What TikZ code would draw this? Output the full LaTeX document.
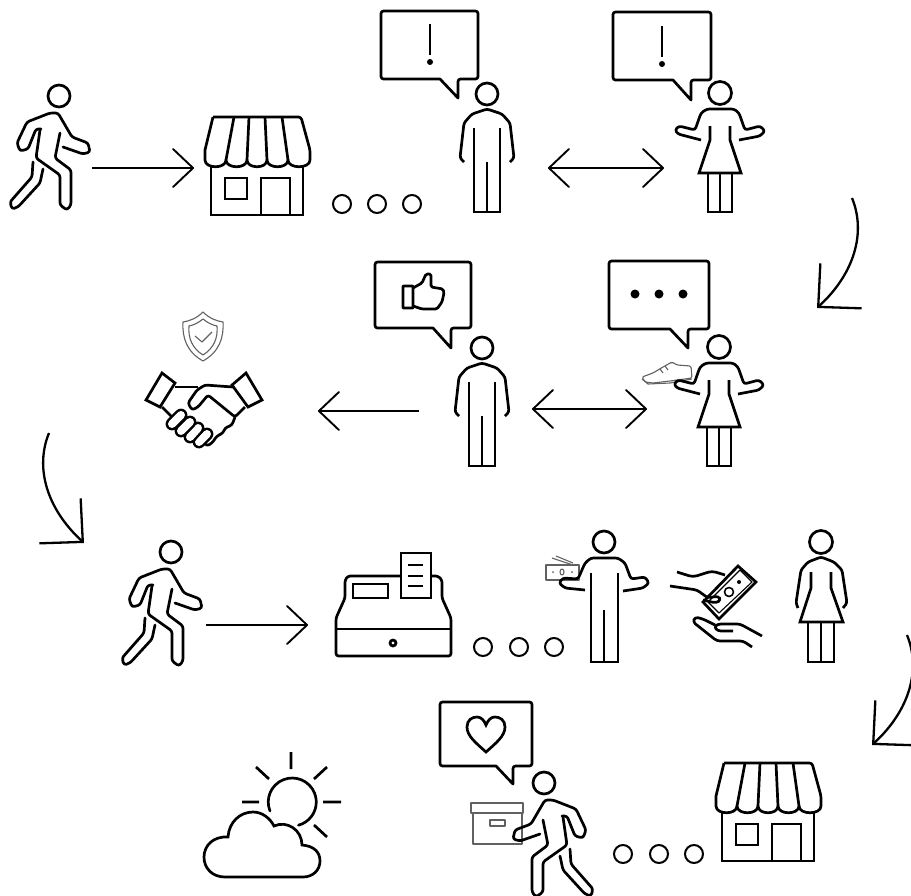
\documentclass[tikz,border=0pt]{standalone}
\usepackage{tikz}
\usetikzlibrary{arrows.meta}
\definecolor{pale}{gray}{0.38}
\tikzset{
icon/.style={draw=black,line width=2.7pt,line join=round,rounded corners=2.5pt},
sharpicon/.style={draw=black,line width=2.7pt,line join=miter},
paleicon/.style={draw=pale,line width=1.1pt,line join=round},
ring/.style={draw=black,line width=2pt},
fingertip/.style={line width=2.4pt,double,double distance=8pt,line cap=round},
flow/.style={line width=1.9pt,-{Straight Barb[length=20pt,width=38pt,round]}},
flowboth/.style={line width=1.9pt,{Straight Barb[length=20pt,width=38pt,round]}-{Straight Barb[length=20pt,width=38pt,round]}},
swing/.style={line width=2.3pt,-{Straight Barb[length=31pt,width=61pt]}},
pics/walker/.style={code={
\draw[icon,line cap=round](0,0)circle[radius=11];
\draw[icon,line cap=round](-18,33)--(-23,33)--(-31,53)--(-39,55)--(-42,47)--(-32,26)--(-9,17)--(-1,17)--(13,41)--(29,47)--(31,56)--(24,58)--(4,51);
\draw[icon,line cap=round](1,37)--(-4,62)--(12,74)--(12,109)--(8,114)--(1,109)--(1,79)--(-23,62)--(-19,34);
\draw[icon,line cap=round](-26,66)--(-27,81)--(-49,106)--(-47,113)--(-41,111)--(-19,87)--(-16,73);
}},
pics/man/.style={code={
\draw[icon](0,0)circle[radius=11];
\draw[icon](-23,68)--(-27,64)--(-23,29)--(-15,20)--(0,15)--(15,20)--(23,29)--(27,64)--(23,68);
\draw[sharpicon](-13,34)--(-13,118)--(13,118)--(13,34);
\draw[sharpicon](0,68)--(0,118);
}},
pics/manopen/.style={code={
\draw[icon](0,0)circle[radius=11];
\draw[icon](-19,48)--(-39,46)--(-45,41)--(-41,36)--(-26,37)--(-19,21)--(-13,16)--(14,16)--(21,21)--(27,37)--(41,35)--(45,41)--(39,46)--(19,49);
\draw[sharpicon](-13,31)--(-13,120)--(14,120)--(14,31);
\draw[sharpicon](0,68)--(0,120);
}},
pics/woman/.style={code={
\draw[icon](0,0)circle[radius=11.5];
\draw[icon](-23,66)--(-25,61)--(-20,28)--(-13,20)--(0,15)--(13,20)--(21,28)--(26,61)--(22,66);
\draw[sharpicon](-10,30)--(-10,46)--(-21,80)--(22,80)--(10,46)--(10,30);
\draw[sharpicon](-13,80)--(-13,120)--(13,120)--(13,80);
\draw[sharpicon](0,80)--(0,120);
}},
pics/womanopen/.style={code={
\draw[icon](0,0)circle[radius=11.5];
\draw[icon](-19,47)--(-42,41)--(-45,37)--(-41,33)--(-25,37)--(-19,20)--(-13,16)--(14,16)--(19,20)--(25,37)--(40,33)--(45,38)--(40,43)--(19,47);
\draw[sharpicon](-10,33)--(-10,47)--(-21,80)--(21,80)--(10,47)--(10,33);
\draw[sharpicon](-12,80)--(-12,119)--(12,119)--(12,80);
\draw[sharpicon](0,80)--(0,119);
}},
pics/shop/.style={code={
\draw[icon](0,0)--(88,0)--(97,33)--(97,43);
\draw[icon,rounded corners=0pt](0,0)--(-8,33)--(-8,43)
.. controls (-8,52) and (13,52) .. (13,43)
.. controls (13,52) and (34,52) .. (34,43)
.. controls (34,52) and (54,52) .. (54,43)
.. controls (54,52) and (75,52) .. (75,43)
.. controls (75,52) and (97,52) .. (97,43);
\draw[sharpicon](21,0)--(13,43)(36,0)--(34,43)(52,0)--(54,43)(69,0)--(75,43);
\draw[sharpicon](-2,48)--(-2,98)--(90,98)--(90,48);
\draw[sharpicon](12,61)rectangle(34,82);
\draw[sharpicon](48,98)--(48,61)--(77,61)--(77,98);
}},
pics/swingarrow/.style={code={
\coordinate(swingstart)at(0,0);
\coordinate(swingtip)at(-35,110);
\draw[swing](swingstart)..controls(14,34)and(3,75)..(swingtip);
}}
}
\newcommand{\speech}[7]{\draw[icon](#1+20,#2)--(#3,#2)--(#3,#4)--(#6,#4)[sharp corners]--(#6,#7)--(#5,#4)[rounded corners=2.5pt]--(#1,#4)--(#1,#2)--cycle;}
\begin{document}
\begin{tikzpicture}[x=1pt,y=-1pt]
\useasboundingbox(0,0)rectangle(911,895);
% first row
\pic(walkerA)at(59,96){walker};
\coordinate(walkerAend)at(92,168);
\coordinate(shopAend)at(194,168);
\draw[flow](walkerAend)--(shopAend);
\pic(shopA)at(213,117){shop};
\draw[ring](342,204)circle[radius=9](377,204)circle[radius=9](412,204)circle[radius=9];
\speech{381}{11}{478}{79}{440}{458}{98}
\draw[sharpicon](430,24)--(430,55);
\fill(430,62)circle[radius=3];
\pic(manA)at(487,94){man};
\coordinate(manAend)at(548,168);
\coordinate(womanAend)at(664,168);
\draw[flowboth](manAend)--(womanAend);
\speech{613}{12}{711}{80}{673}{691}{100}
\draw[sharpicon](662,26)--(662,57);
\fill(662,64)circle[radius=3];
\pic(womanA)at(720,93){womanopen};
\pic(swingA)at(852,198){swingarrow};
% second row
\speech{375}{262}{471}{328}{433}{451}{348}
\draw[icon,rounded corners=0.5pt](403,286)rectangle(413,308);
\draw[icon,rounded corners=1.5pt](413,288)--(422,283)--(426,274)--(431,274)--(431,287)--(443,289)--(444,293)--(442,302)--(437,309)--(422,309)--(413,306);
\pic(manB)at(482,348){man};
\coordinate(manBend)at(419,411);
\coordinate(shakeend)at(318,411);
\draw[flow](manBend)--(shakeend);
\coordinate(manBright)at(532,409);
\coordinate(womanBend)at(647,409);
\draw[flowboth](manBright)--(womanBend);
\speech{609}{261}{709}{329}{670}{688}{348}
\fill(635,294)circle[radius=4.5](659,294)circle[radius=4.5](683,294)circle[radius=4.5];
\draw[paleicon,fill=white,rounded corners=1.5pt](642,377)--(653,373)--(663,367)--(672,362)--(677,365)--(691,366)--(692,378)--(670,381)--(653,383)--(645,382)--cycle;
\draw[paleicon](642,379)--(648,384)--(670,383)--(692,379)(660,369)--(663,373)(665,366)--(668,370);
\pic(womanB)at(719,347){womanopen};
% shield and handshake
\draw[paleicon](203,312)..controls(209,318)and(216,321)..(223,322)..controls(224,338)and(219,352)..(203,361)..controls(187,352)and(182,338)..(183,322)..controls(190,321)and(197,318)..(203,312)--cycle;
\draw[paleicon](203,319)..controls(208,323)and(212,325)..(217,326)..controls(218,338)and(214,348)..(203,355)..controls(192,348)and(188,338)..(189,326)..controls(194,325)and(198,323)..(203,319)--cycle;
\draw[paleicon](195,336)--(202,342)--(212,332);
\draw[sharpicon](162,373)--(175,383)--(160,407)--(146,400)--cycle;
\draw[sharpicon](246,373)--(232,385)--(248,407)--(262,400)--cycle;
\draw[icon](175,387)--(198,387);
\draw[icon](233,387)--(205,385)--(197,390)--(188,403)--(192,410)--(198,407)--(208,395)--(235,417)--(245,407);
\draw[icon](235,417)--(232,425)--(225,428)--(223,433)--(217,436)--(212,443)--(207,446)--(203,442);
\draw[sharpicon](162,407)--(172,417);
\draw[fingertip](199,442)--(207,434);
\draw[fingertip](190,437)--(198,428);
\draw[fingertip](181,431)--(190,422);
\draw[fingertip](172,424)--(181,415);
\pic[xscale=-1](swingB)at(49,433){swingarrow};
% third row
\pic(walkerB)at(171,552){walker};
\coordinate(walkerBend)at(206,625);
\coordinate(tillend)at(308,625);
\draw[flow](walkerBend)--(tillend);
\draw[icon](400,576)--(348,576)--(345,580)--(345,598)--(336,618)--(336,656)--(451,656)--(451,618)--(442,598)--(442,580)--(438,576)--(431,576);
\draw[sharpicon](336,629)--(451,629);
\draw[sharpicon](393,643)circle[radius=3];
\draw[sharpicon](353,584)rectangle(388,598);
\draw[sharpicon](401,553)rectangle(431,598);
\draw[sharpicon](408,565)--(423,565)(408,576)--(423,576)(408,586)--(423,586);
\draw[ring](483,647)circle[radius=9](519,647)circle[radius=9](554,647)circle[radius=9];
\draw[paleicon,line width=1.4pt](546,565)rectangle(579,580);
\draw[paleicon](552,558)--(573,565)(556,556)--(573,563);
\draw[paleicon](562,572)circle[x radius=2,y radius=3];
\fill[pale](553,572)circle[radius=1](572,572)circle[radius=1];
\pic(manC)at(604,542){manopen};
\draw[sharpicon](738,566)--(756,582)--(719,619)--(703,602)--cycle;
\draw[paleicon,draw=black](740,570)--(752,582)--(719,613)--(708,602)--cycle;
\draw[paleicon,draw=black,line width=1.6pt](729,592)circle[radius=4.5];
\fill(739,582)circle[radius=2];
\draw[icon,rounded corners=4pt](677,572)--(693,577)--(712,571)--(725,575);
\draw[icon,rounded corners=3pt](670,586)--(697,590)--(708,598)--(718,596)--(721,600)--(716,603)--(703,600);
\draw[icon,rounded corners=3pt](762,636)--(740,624)--(718,624)--(714,627)--(718,631)--(733,631);
\draw[icon,rounded corners=3pt](752,647)--(743,641)--(717,641)--(693,622)--(695,617)--(703,619)--(715,625);
\pic(womanC)at(821,542){woman};
\pic(swingC)at(907,635){swingarrow};
% last row
\pic(shopB)at(724,763){shop};
\draw[ring](623,854)circle[radius=9](659,854)circle[radius=9](694,854)circle[radius=9];
\speech{440}{702}{532}{766}{496}{513}{784}
\draw[sharpicon](486,752)..controls(476,743)and(467,736)..(467,727)..controls(467,720)and(472,717)..(477,717)..controls(481,717)and(484,720)..(486,725)..controls(488,720)and(491,717)..(495,717)..controls(500,717)and(505,720)..(505,727)..controls(505,736)and(496,743)..(486,752)--cycle;
\draw[paleicon,line width=1.2pt](471,803)rectangle(523,813);
\draw[paleicon,line width=1.2pt](473,813)--(473,844)--(522,844)--(522,813);
\draw[paleicon,line width=1.2pt](490,820)rectangle(505,826);
\pic[xscale=-1](walkerC)at(544,783){walker};
\draw[sharpicon,line cap=round](270,811)arc[start angle=158,end angle=435,radius=24];
\draw[sharpicon](291,752)--(291,769)(256,767)--(269,779)(327,767)--(314,779)(242,802)--(259,802)(323,802)--(341,802)(314,825)--(327,837);
\draw[sharpicon](225,877)..controls(212,877)and(204,868)..(204,857)..controls(204,845)and(214,836)..(228,837)..controls(229,822)and(240,812)..(253,812)..controls(262,812)and(270,818)..(274,826)..controls(287,820)and(302,830)..(302,845)..controls(314,846)and(320,852)..(320,861)..controls(320,870)and(313,877)..(303,877)--cycle;
\end{tikzpicture}
\end{document}
